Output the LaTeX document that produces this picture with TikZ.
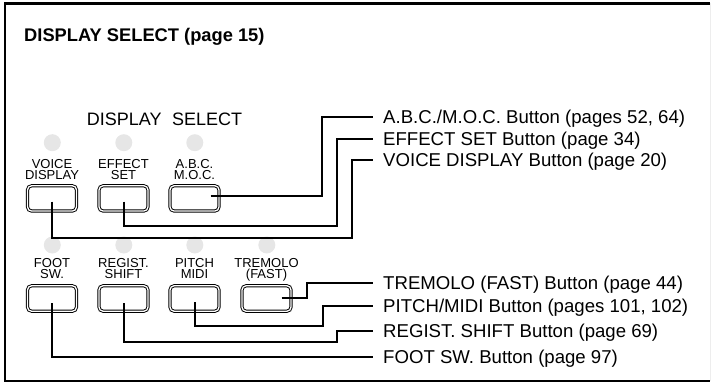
\documentclass[tikz,border=0pt]{standalone}
\usepackage{fontspec}
\setmainfont{Liberation Sans}
\usetikzlibrary{calc}
\definecolor{ledgray}{HTML}{E6E6E6}
\definecolor{faint}{HTML}{EDEDED}
\begin{document}
\begin{tikzpicture}[x=1pt,y=-1pt,
  conn/.style={line width=2.3pt},
  frame/.style={line width=2.6pt},
  btn/.style={draw, double, double distance=1.3pt, line width=0.95pt, rounded corners=4pt,
    minimum width=48.9pt, minimum height=25.2pt, inner sep=0pt},
  led/.style={circle, fill=ledgray, minimum size=17pt, inner sep=0pt},
  blbl/.style={font=\fontsize{13}{11.2}\selectfont, align=center, inner sep=0pt, anchor=north},
  lbl/.style={font=\fontsize{18.6}{22}\selectfont, anchor=base west, inner sep=0pt},
]
\useasboundingbox (0,0) rectangle (711,382);
% frame
\draw[frame] (710,3.5) -- (5,3.5) -- (5,380.8) -- (710,380.8);
\draw[faint, line width=1pt] (710,3.5) -- (710,380.8);

% titles
\node[anchor=base west, inner sep=0pt, font=\bfseries\fontsize{18.3}{20}\selectfont] (title) at (24,41.7) {DISPLAY SELECT (page 15)};
\node[anchor=base west, inner sep=0pt, font=\fontsize{18}{20}\selectfont] (ds) at (86.7,126) {DISPLAY\hspace{10.5pt}SELECT};

% LEDs
\node[led] (l1) at (52.3,142.7) {};
\node[led] (l2) at (123.8,142.7) {};
\node[led] (l3) at (194.8,142.7) {};
\node[led] (l4) at (52.3,245) {};
\node[led] (l5) at (123.8,245) {};
\node[led] (l6) at (194.8,245) {};
\node[led] (l7) at (266.8,245) {};

% button labels
\node[blbl] (tvd) at (52,158.8) {VOICE\\DISPLAY};
\node[blbl] (tes) at (123.5,158.8) {EFFECT\\SET};
\node[blbl] (tab) at (194.5,158.8) {A.B.C.\\M.O.C.};
\node[blbl] (tfs) at (52,258) {FOOT\\SW.};
\node[blbl] (trs) at (123.5,258) {REGIST.\\SHIFT};
\node[blbl] (tpm) at (194.5,258) {PITCH\\MIDI};
\node[blbl] (ttr) at (266.5,258) {TREMOLO\\(FAST)};

% buttons
\node[btn] (vd) at (52,198.4) {};
\node[btn] (es) at (123.5,198.4) {};
\node[btn] (ab) at (194.5,198.4) {};
\node[btn, minimum height=25.4pt] (fs) at (52,298.5) {};
\node[btn, minimum height=25.4pt] (rs) at (123.5,298.5) {};
\node[btn, minimum height=25.4pt] (pm) at (194.5,298.5) {};
\node[btn, minimum height=25.4pt] (tr) at (266.5,298.5) {};

% right labels
\coordinate (e1) at (373.3,117.3);
\coordinate (e2) at (373.3,139.3);
\coordinate (e3) at (373.3,160);
\coordinate (e4) at (373.3,282.7);
\coordinate (e5) at (373.3,306);
\coordinate (e6) at (373.3,330.7);
\coordinate (e7) at (373.3,356.7);
\node[lbl] (r1) at ($(e1)+(9.7,6.6)$) {A.B.C./M.O.C. Button (pages 52, 64)};
\node[lbl] (r2) at ($(e2)+(9.7,6.6)$) {EFFECT SET Button (page 34)};
\node[lbl] (r3) at ($(e3)+(9.7,6.6)$) {VOICE DISPLAY Button (page 20)};
\node[lbl] (r4) at ($(e4)+(9.7,6.6)$) {TREMOLO (FAST) Button (page 44)};
\node[lbl] (r5) at ($(e5)+(9.7,6.6)$) {PITCH/MIDI Button (pages 101, 102)};
\node[lbl] (r6) at ($(e6)+(9.7,6.6)$) {REGIST. SHIFT Button (page 69)};
\node[lbl] (r7) at ($(e7)+(9.7,6.6)$) {FOOT SW. Button (page 97)};

% connectors
\draw[conn] ($(ab.center)+(16.2,-2.7)$) -- (321.7,195.7) |- (e1);
\draw[conn] ($(es.center)+(0.5,3.3)$) |- (336.7,225.7) |- (e2);
\draw[conn] ($(vd.center)+(0,3.3)$) |- (351.7,237.7) |- (e3);
\draw[conn] ($(tr.center)+(15.2,-0.2)$) -- (306.7,298.3) |- (e4);
\draw[conn] ($(pm.center)+(0.5,3.5)$) |- (322.7,325.7) |- (e5);
\draw[conn] ($(rs.center)+(0.5,4.5)$) |- (337.3,342.3) |- (e6);
\draw[conn] ($(fs.center)+(0,4.5)$) |- (e7);
\end{tikzpicture}
\end{document}
